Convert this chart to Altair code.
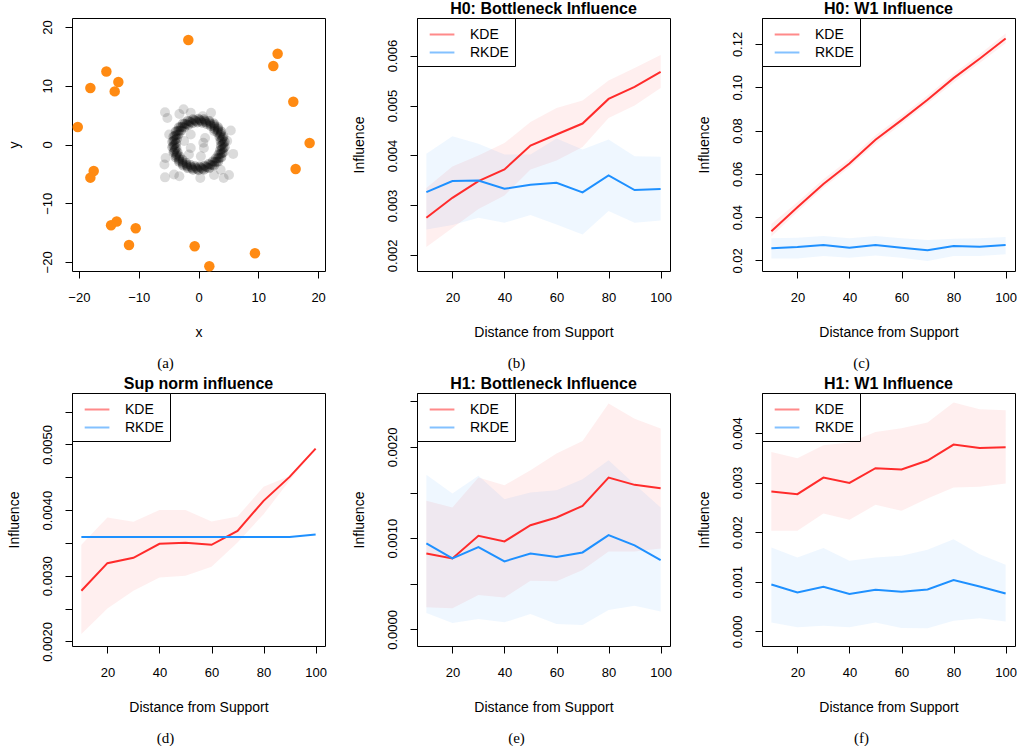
import altair as alt
import pandas as pd

# ---------------- data ----------------
DIST = [10, 20, 30, 40, 50, 60, 70, 80, 90, 100]
METHODS = ["KDE", "RKDE"]

# (a) scatter: outliers (orange) and ring/noise sample (black, translucent)
ORANGE_X = [-1.70, 13.23, 12.51, -15.40, -13.40, -14.01, -18.08, 15.85, -20.19, 18.58,
            16.24, -17.52, -18.08, -14.62, -13.68, -10.50, -11.62, -0.64, 9.44, 1.81]
ORANGE_Y = [17.79, 15.46, 13.36, 12.45, 10.64, 9.05, 9.62, 7.29, 2.98, 0.26,
            -4.17, -4.51, -5.65, -13.76, -13.13, -14.27, -17.11, -17.33, -18.52, -20.74]
RING_X = [4.00, 4.38, 3.91, 4.18, 3.65, 3.81, 3.24, 3.27, 2.68, 2.59, 2.00, 1.79, 1.24, 0.91, 0.42,
          0.00, -0.42, -0.91, -1.24, -1.79, -2.00, -2.59, -2.68, -3.27, -3.24, -3.81, -3.65, -4.18, -3.91, -4.38,
          -4.00, -4.38, -3.91, -4.18, -3.65, -3.81, -3.24, -3.27, -2.68, -2.59, -2.00, -1.79, -1.24, -0.91, -0.42,
          0.00, 0.42, 0.91, 1.24, 1.79, 2.00, 2.59, 2.68, 3.27, 3.24, 3.81, 3.65, 4.18, 3.91, 4.38,
          4.19, 3.70, 4.06, 3.50, 3.74, 3.15, 3.26, 2.65, 2.64, 2.04, 1.91, 1.34, 1.09, 0.59, 0.22,
          -0.20, -0.66, -0.97, -1.51, -1.70, -2.29, -2.36, -2.97, -2.91, -3.52, -3.34, -3.92, -3.62, -4.15, -3.74,
          -4.19, -3.70, -4.06, -3.50, -3.74, -3.15, -3.26, -2.65, -2.64, -2.04, -1.91, -1.34, -1.09, -0.59, -0.22,
          0.20, 0.66, 0.97, 1.51, 1.70, 2.29, 2.36, 2.97, 2.91, 3.52, 3.34, 3.92, 3.62, 4.15, 3.74]
RING_Y = [0.00, 0.46, 0.83, 1.36, 1.63, 2.20, 2.35, 2.94, 2.97, 3.56, 3.46, 4.02, 3.80, 4.30, 3.98,
          4.40, 3.98, 4.30, 3.80, 4.02, 3.46, 3.56, 2.97, 2.94, 2.35, 2.20, 1.63, 1.36, 0.83, 0.46,
          0.00, -0.46, -0.83, -1.36, -1.63, -2.20, -2.35, -2.94, -2.97, -3.56, -3.46, -4.02, -3.80, -4.30, -3.98,
          -4.40, -3.98, -4.30, -3.80, -4.02, -3.46, -3.56, -2.97, -2.94, -2.35, -2.20, -1.63, -1.36, -0.83, -0.46,
          0.22, 0.59, 1.09, 1.34, 1.91, 2.04, 2.64, 2.65, 3.26, 3.15, 3.74, 3.50, 4.06, 3.70, 4.19,
          3.74, 4.15, 3.62, 3.92, 3.34, 3.52, 2.91, 2.97, 2.36, 2.29, 1.70, 1.51, 0.97, 0.66, 0.20,
          -0.22, -0.59, -1.09, -1.34, -1.91, -2.04, -2.64, -2.65, -3.26, -3.15, -3.74, -3.50, -4.06, -3.70, -4.19,
          -3.74, -4.15, -3.62, -3.92, -3.34, -3.52, -2.91, -2.97, -2.36, -2.29, -1.70, -1.51, -0.97, -0.66, -0.20]
NOISE_X = [-5.6, -5.2, -2.5, -3.2, -1.3, 2.1, 0.7, 5.4, 5.8, -5.7, -5.5, -5.6, -4.1, -3.2, 0.3, 2.6, 4.2,
           5.1, 3.7, -1.3, -1.3, -1.6, 1.1, 0.8, 0.9, 0.4, -2.4, 2.6, -4.9, 4.8]
NOISE_Y = [5.5, 4.5, 6.0, 5.2, 5.4, 5.4, 4.8, 2.4, -1.6, -3.4, -2.3, -5.6, -5.1, -5.4, -5.7, -5.2, -5.7,
           -5.2, -4.3, 1.7, -0.6, -1.7, 1.1, 0.3, -0.6, -2.0, 0.6, 2.3, 1.7, 0.6]

# (b) H0: Bottleneck Influence
B_KDE = [0.002753, 0.003153, 0.003487, 0.00372, 0.0042, 0.00442, 0.00464, 0.005133, 0.005373, 0.005673]
B_KDE_LO = [0.00217, 0.00255, 0.00293, 0.0032, 0.00372, 0.0039, 0.00417, 0.00475, 0.0050, 0.00535]
B_KDE_HI = [0.00335, 0.00378, 0.0040, 0.00425, 0.00467, 0.00495, 0.0051, 0.0055, 0.00575, 0.00601]
B_RKDE = [0.003267, 0.003487, 0.0035, 0.003333, 0.003413, 0.003453, 0.00326, 0.0036, 0.003307, 0.003327]
B_RKDE_LO = [0.00252, 0.00261, 0.002753, 0.002653, 0.002807, 0.00262, 0.00242, 0.002887, 0.002653, 0.0027]
B_RKDE_HI = [0.004033, 0.004387, 0.004233, 0.00402, 0.00402, 0.00434, 0.00412, 0.00432, 0.003987, 0.003973]

# (c) H0: W1 Influence
C_KDE = [0.0335, 0.0445, 0.0553, 0.0648, 0.0757, 0.0848, 0.0942, 0.1042, 0.1132, 0.1225]
C_KDE_LO = [0.0310, 0.0425, 0.0535, 0.0630, 0.0738, 0.0830, 0.0925, 0.1022, 0.1112, 0.1203]
C_KDE_HI = [0.0368, 0.0468, 0.0575, 0.0668, 0.0778, 0.0868, 0.0962, 0.1062, 0.1152, 0.1248]
C_RKDE = [0.02554, 0.02615, 0.02708, 0.02585, 0.02708, 0.02585, 0.02462, 0.02662, 0.0263, 0.02708]
C_RKDE_LO = [0.0208, 0.0209, 0.0220, 0.0212, 0.0223, 0.0212, 0.0197, 0.0220, 0.0220, 0.0228]
C_RKDE_HI = [0.0302, 0.0305, 0.0312, 0.0302, 0.0312, 0.0302, 0.0294, 0.0300, 0.0302, 0.0308]

# (d) Sup norm influence
D_KDE = [0.002771, 0.003192, 0.003273, 0.003486, 0.003502, 0.003471, 0.003684, 0.004141, 0.004506, 0.004937]
D_KDE_LO = [0.002112, 0.0025, 0.002771, 0.002974, 0.0030, 0.003136, 0.003507, 0.003938, 0.00445, 0.00493]
D_KDE_HI = [0.003471, 0.003887, 0.003821, 0.0040, 0.0040, 0.003826, 0.003902, 0.004354, 0.00452, 0.00494]
D_RKDE = [0.00359, 0.00359, 0.00359, 0.00359, 0.00359, 0.00359, 0.00359, 0.00359, 0.003592, 0.00363]
D_RKDE_LO = [0.00359, 0.00359, 0.00359, 0.00359, 0.00359, 0.00359, 0.00359, 0.00359, 0.003592, 0.00363]
D_RKDE_HI = [0.00359, 0.00359, 0.00359, 0.00359, 0.00359, 0.00359, 0.00359, 0.00359, 0.003592, 0.00363]

# (e) H1: Bottleneck Influence
E_KDE = [0.000832, 0.000777, 0.001026, 0.000964, 0.001142, 0.001226, 0.001354, 0.001664, 0.001584, 0.001548]
E_KDE_LO = [0.000241, 0.00023, 0.000376, 0.00035, 0.000533, 0.000526, 0.00065, 0.000854, 0.000854, 0.000887]
E_KDE_HI = [0.001409, 0.001336, 0.001664, 0.00158, 0.001745, 0.001927, 0.002066, 0.002475, 0.00231, 0.002201]
E_RKDE = [0.000942, 0.000777, 0.000902, 0.000745, 0.000832, 0.000792, 0.000843, 0.001033, 0.00092, 0.000759]
E_RKDE_LO = [0.000179, 0.0000694, 0.000113, 0.0000767, 0.000168, 0.0000584, 0.0000475, 0.000212, 0.000259, 0.000197]
E_RKDE_HI = [0.001694, 0.00149, 0.001683, 0.001427, 0.0015, 0.001526, 0.001646, 0.001855, 0.00159, 0.001336]

# (f) H1: W1 Influence
F_KDE = [0.002819, 0.002765, 0.0031, 0.002993, 0.003289, 0.003262, 0.003443, 0.003765, 0.003698, 0.003711]
F_KDE_LO = [0.002027, 0.002027, 0.002376, 0.002248, 0.00255, 0.00243, 0.002678, 0.002899, 0.002913, 0.00298]
F_KDE_HI = [0.003617, 0.00349, 0.003752, 0.003805, 0.00402, 0.004094, 0.004208, 0.004611, 0.004477, 0.004456]
F_RKDE = [0.000946, 0.000785, 0.000899, 0.000752, 0.000839, 0.000799, 0.000846, 0.001034, 0.000906, 0.000765]
F_RKDE_LO = [0.000181, 0.0000805, 0.000114, 0.0000805, 0.000181, 0.0000671, 0.0000604, 0.000215, 0.000262, 0.000201]
F_RKDE_HI = [0.001691, 0.00149, 0.001678, 0.001423, 0.00149, 0.001523, 0.001644, 0.001859, 0.001557, 0.001342]

# tick values
X_TICKS = [20, 40, 60, 80, 100]
A_TICKS = [-20, -10, 0, 10, 20]
B_TICKS = [0.002, 0.003, 0.004, 0.005, 0.006]
C_TICKS = [0.02, 0.04, 0.06, 0.08, 0.10, 0.12]
D_TICKS = [0.0020, 0.0025, 0.0030, 0.0035, 0.0040, 0.0045, 0.0050, 0.0055]
E_TICKS = [0.0, 0.0005, 0.0010, 0.0015, 0.0020, 0.0025]
F_TICKS = [0.0, 0.001, 0.002, 0.003, 0.004]

# ---------------- style ----------------
W = 253
H = 253
RED = "#FF2B2B"
BLUE = "#1E90FF"
ORANGE = "#FF8A12"
SANS = "Liberation Sans"
SERIF = "Liberation Serif"
XDOM = [6.4, 103.6]


def xaxis(vals, expr):
    return alt.Axis(values=vals, labelExpr=expr, labelAngle=0, labelAlign="center",
                    labelBaseline="middle", labelPadding=19, labelFlush=False, labelOverlap=False,
                    titleX=W / 2, titleY=61, titleAlign="center", titleBaseline="middle")


def yaxis(vals, expr):
    return alt.Axis(values=vals, labelExpr=expr, labelAngle=270, labelAlign="center",
                    labelBaseline="middle", labelPadding=17.5, labelFlush=False, labelOverlap=False,
                    titleAngle=270, titleX=-58, titleY=H / 2, titleAlign="center",
                    titleBaseline="middle")


LEGEND = alt.Legend(orient="top-left", offset=0, title=None, padding=6, strokeColor="black",
                    fillColor="white", symbolType="M-0.4,0H2.2", symbolSize=361,
                    symbolStrokeWidth=2, symbolOpacity=0.55, labelFont=SANS, labelFontSize=14,
                    labelColor="black", labelOffset=26, rowPadding=0, cornerRadius=0)


def caption_layer(text, dx):
    return alt.Chart(pd.DataFrame({"label": [text]})).mark_text(
        font=SERIF, fontSize=15, align="center", baseline="middle", color="black"
    ).encode(x=alt.value(W / 2 + dx), y=alt.value(H + 92), text="label:N")


def make_df(kde, kde_lo, kde_hi, rk, rk_lo, rk_hi):
    return pd.DataFrame({
        "dist": DIST + DIST,
        "method": ["KDE"] * len(DIST) + ["RKDE"] * len(DIST),
        "mean": kde + rk,
        "lo": kde_lo + rk_lo,
        "hi": kde_hi + rk_hi,
    })


def influence_panel(df, heading, ydom, yvals, yexpr, caption, cap_dx):
    xenc = alt.X("dist:Q", scale=alt.Scale(domain=XDOM, nice=False, zero=False),
                 axis=xaxis(X_TICKS, "format(datum.value, 'd')"), title="Distance from Support")
    yscale = alt.Scale(domain=ydom, nice=False, zero=False)
    yax = yaxis(yvals, yexpr)
    base = alt.Chart(df)
    layers = []
    for m, col, op in [("KDE", RED, 0.075), ("RKDE", BLUE, 0.07)]:
        layers.append(
            base.transform_filter(alt.datum.method == m)
            .mark_area(fill=col, opacity=op, clip=True)
            .encode(x=xenc, y=alt.Y("lo:Q", scale=yscale, axis=yax, title="Influence"), y2="hi:Q")
        )
    layers.append(
        base.mark_line(strokeWidth=2, clip=True).encode(
            x=xenc,
            y=alt.Y("mean:Q", scale=yscale, axis=yax, title="Influence"),
            color=alt.Color("method:N", scale=alt.Scale(domain=METHODS, range=[RED, BLUE]),
                            legend=LEGEND),
        )
    )
    layers.append(caption_layer(caption, cap_dx))
    return alt.layer(*layers).properties(width=W, height=H, title=heading)


# ---------------- panel (a) ----------------
pts = pd.DataFrame({
    "x": RING_X + NOISE_X,
    "y": RING_Y + NOISE_Y,
    "grp": ["ring"] * len(RING_X) + ["noise"] * len(NOISE_X),
})
out = pd.DataFrame({"x": ORANGE_X, "y": ORANGE_Y})
ax_x = alt.X("x:Q", scale=alt.Scale(domain=[-21.15, 21.15], nice=False, zero=False),
             axis=xaxis(A_TICKS, "format(datum.value, 'd')"), title="x")
ax_y = alt.Y("y:Q", scale=alt.Scale(domain=[-21.55, 21.55], nice=False, zero=False),
             axis=yaxis(A_TICKS, "format(datum.value, 'd')"), title="y")
gray = alt.Chart(pts).mark_circle(size=100, color="black").encode(
    x=ax_x, y=ax_y,
    opacity=alt.Opacity("grp:N", scale=alt.Scale(domain=["ring", "noise"], range=[0.24, 0.14]),
                        legend=None),
)
orange = alt.Chart(out).mark_circle(size=110, color=ORANGE, opacity=1).encode(x=ax_x, y=ax_y)
panel_a = alt.layer(gray, orange, caption_layer("(a)", -33)).properties(width=W, height=H)

lab4 = "round(datum.value*10000) % 10 == 0 ? format(datum.value, '.4f') : ''"
panel_b = influence_panel(make_df(B_KDE, B_KDE_LO, B_KDE_HI, B_RKDE, B_RKDE_LO, B_RKDE_HI),
                          "H0: Bottleneck Influence", [0.001687, 0.006753], B_TICKS,
                          "format(datum.value, '.3f')", "(b)", -27)
panel_c = influence_panel(make_df(C_KDE, C_KDE_LO, C_KDE_HI, C_RKDE, C_RKDE_LO, C_RKDE_HI),
                          "H0: W1 Influence", [0.01508, 0.132], C_TICKS,
                          "format(datum.value, '.2f')", "(c)", -27)
panel_d = influence_panel(make_df(D_KDE, D_KDE_LO, D_KDE_HI, D_RKDE, D_RKDE_LO, D_RKDE_HI),
                          "Sup norm influence", [0.00193, 0.005784], D_TICKS, lab4, "(d)", -33)
panel_e = influence_panel(make_df(E_KDE, E_KDE_LO, E_KDE_HI, E_RKDE, E_RKDE_LO, E_RKDE_HI),
                          "H1: Bottleneck Influence", [-0.0001825, 0.002591], E_TICKS, lab4, "(e)", -27)
panel_f = influence_panel(make_df(F_KDE, F_KDE_LO, F_KDE_HI, F_RKDE, F_RKDE_LO, F_RKDE_HI),
                          "H1: W1 Influence", [-0.000295, 0.004805], F_TICKS,
                          "format(datum.value, '.3f')", "(f)", -27)

chart = (
    alt.concat(panel_a, panel_b, panel_c, panel_d, panel_e, panel_f, columns=3,
               spacing={"row": 122, "column": 92}, bounds="flush")
    .resolve_scale(color="independent")
    .resolve_legend(color="independent")
    .properties(padding={"left": 6, "top": 0, "right": 0, "bottom": 0}, background="white")
    .configure_view(stroke="black", strokeWidth=1)
    .configure_axis(domain=False, grid=False, ticks=True, tickColor="black", tickSize=7,
                    tickWidth=1, labelFont=SANS, labelFontSize=13, labelColor="black",
                    titleFont=SANS, titleFontSize=14, titleFontWeight="normal", titleColor="black")
    .configure_title(font=SANS, fontSize=16, fontWeight="bold", anchor="middle", offset=1,
                     color="black")
)

chart.save("out.html", embed_options={"renderer": "svg", "actions": False})
